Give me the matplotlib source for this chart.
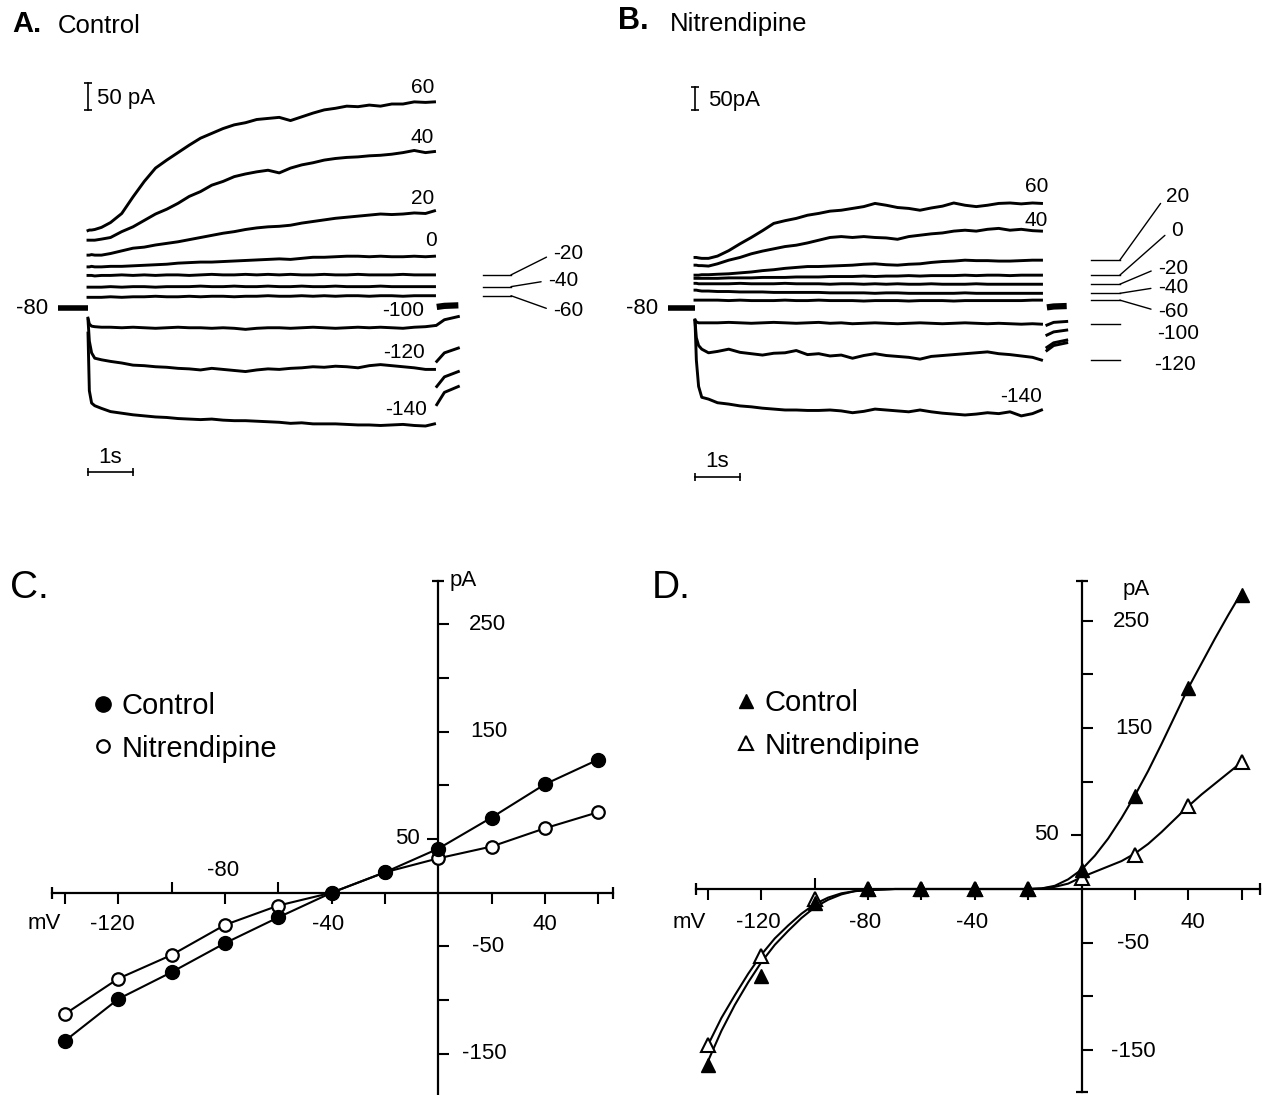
"""
Whole-cell currents in control and nitrendipine.

A, B: current traces for 7.7 s voltage steps from a -80 mV holding
potential (step potential in mV next to each trace).
C, D: current-voltage relations; circles = early current,
triangles = late current.
"""

import matplotlib
matplotlib.use("Agg")
import matplotlib.pyplot as plt
from matplotlib.lines import Line2D

plt.rcParams.update({
    "font.family": ["Liberation Sans", "DejaVu Sans"],
    "font.size": 15,
})

W_PX, H_PX = 1263, 1095

# ---------------------------------------------------------------- traces
# sample times (s) after the start of the step
T_STEP = [0, 0.03, 0.08, 0.15, 0.3, 0.5, 0.75, 1.0, 1.25, 1.5, 1.75, 2.0,
          2.25, 2.5, 2.75, 3.0, 3.25, 3.5, 3.75, 4.0, 4.25, 4.5, 4.75, 5.0,
          5.25, 5.5, 5.75, 6.0, 6.25, 6.5, 6.75, 7.0, 7.25, 7.5, 7.7]
STEP_MV = [60, 40, 20, 0, -20, -40, -60, -100, -120, -140]

# control currents (pA, relative to the holding current at -80 mV)
A_P60 = [145, 146, 146, 147, 151, 160, 177, 208, 237, 262, 277, 291, 305, 318,
         327, 336, 343, 347, 353, 355, 357, 351, 358, 365, 371, 374, 378, 377,
         380, 378, 382, 382, 386, 385, 386]
A_P40 = [127, 127, 127, 127, 129, 132, 143, 152, 164, 176, 185, 196, 209, 218,
         230, 237, 246, 251, 255, 258, 253, 262, 268, 272, 277, 280, 282, 283,
         285, 286, 288, 291, 295, 291, 293]
A_P20 = [99, 99, 100, 99, 99, 102, 107, 112, 114, 118, 121, 124, 128, 132, 136,
         140, 143, 147, 150, 152, 153, 155, 159, 162, 165, 168, 170, 172, 174,
         176, 175, 176, 178, 177, 182]
A_0 = [77, 77, 78, 77, 77, 78, 78, 79, 80, 81, 82, 84, 85, 86, 86, 87, 88, 89,
       90, 91, 92, 91, 93, 95, 95, 96, 97, 97, 96, 97, 96, 96, 97, 96, 97]
A_M20 = [61, 61, 61, 60, 61, 61, 62, 61, 62, 61, 62, 62, 61, 62, 63, 62, 62, 63,
         62, 63, 62, 63, 62, 62, 63, 62, 62, 63, 62, 62, 62, 63, 62, 62, 62]
A_M40 = [39, 39, 39, 39, 39, 40, 39, 40, 40, 39, 40, 40, 40, 41, 40, 40, 41, 40,
         40, 41, 40, 40, 41, 40, 40, 41, 40, 40, 40, 41, 40, 40, 40, 40, 40]
A_M60 = [20, 20, 20, 20, 20, 21, 20, 21, 21, 22, 21, 21, 22, 21, 22, 22, 21, 22,
         22, 23, 22, 22, 23, 22, 23, 22, 23, 23, 22, 23, 23, 22, 23, 23, 23]
A_M100 = [-19, -30, -34, -35, -36, -36, -37, -36, -37, -38, -37, -36, -37, -37,
          -38, -37, -38, -40, -38, -37, -37, -38, -37, -36, -37, -38, -37, -36,
          -37, -36, -37, -38, -36, -35, -33]
A_M120 = [-22, -62, -84, -94, -97, -100, -103, -107, -108, -110, -111, -113,
          -114, -116, -113, -115, -117, -119, -116, -114, -115, -113, -112, -110,
          -111, -109, -110, -112, -108, -106, -108, -110, -112, -115, -115]
A_M140 = [-47, -155, -178, -183, -188, -194, -197, -200, -202, -204, -205, -207,
          -208, -209, -208, -210, -211, -211, -212, -213, -214, -216, -215, -217,
          -217, -217, -218, -219, -219, -220, -219, -218, -220, -221, -217]

# nitrendipine currents (pA)
B_P60 = [112, 112, 111, 110, 110, 115, 127, 142, 156, 171, 187, 193, 198, 205,
         209, 214, 216, 220, 224, 231, 227, 222, 220, 216, 221, 225, 232, 227,
         224, 227, 231, 232, 230, 232, 231]
B_P40 = [95, 95, 94, 94, 93, 98, 106, 112, 120, 126, 131, 136, 139, 144, 150,
         156, 158, 156, 158, 156, 155, 152, 158, 161, 164, 166, 170, 172, 170,
         174, 176, 172, 174, 171, 170]
B_P20 = [73, 73, 73, 74, 74, 75, 76, 78, 80, 83, 85, 88, 90, 92, 92, 93, 94, 95,
         97, 98, 96, 95, 97, 98, 101, 103, 104, 106, 105, 105, 104, 104, 105, 106,
         106]
B_0 = [66, 66, 66, 66, 66, 66, 67, 67, 67, 68, 68, 68, 69, 69, 69, 70, 70, 70,
       71, 70, 71, 71, 72, 71, 72, 72, 72, 73, 72, 73, 73, 72, 73, 73, 73]
B_M20 = [55, 55, 54, 54, 54, 54, 54, 55, 54, 54, 54, 55, 54, 54, 54, 53, 54, 54,
         53, 54, 53, 54, 53, 53, 54, 53, 53, 53, 54, 53, 53, 53, 53, 53, 53]
B_M40 = [40, 40, 39, 38, 38, 37, 37, 36, 36, 36, 35, 35, 35, 35, 35, 34, 34, 34,
         34, 33, 34, 34, 33, 33, 33, 33, 33, 34, 33, 33, 33, 33, 33, 33, 33]
B_M60 = [18, 18, 18, 18, 18, 18, 17, 18, 17, 17, 17, 18, 17, 17, 18, 17, 17, 17,
         16, 17, 17, 17, 16, 17, 17, 17, 16, 17, 17, 17, 17, 17, 17, 18, 18]
B_M100 = [-26, -30, -32, -32, -32, -32, -31, -32, -33, -32, -31, -32, -33, -32,
          -31, -33, -32, -34, -33, -32, -33, -34, -33, -32, -33, -34, -33, -32,
          -33, -34, -33, -34, -35, -34, -35]
B_M120 = [-29, -65, -82, -90, -98, -95, -90, -97, -100, -103, -99, -98, -93,
          -102, -100, -105, -103, -110, -104, -100, -104, -106, -108, -112, -106,
          -104, -102, -100, -98, -96, -100, -102, -105, -108, -114]
B_M140 = [-26, -114, -172, -196, -200, -208, -211, -215, -217, -220, -222, -224,
          -224, -225, -225, -224, -226, -230, -227, -222, -224, -226, -228, -224,
          -228, -231, -233, -235, -233, -230, -232, -228, -237, -232, -224]

# holding current segment before the step, and tail currents after it
HOLD_T_A = [-0.67, 0]
HOLD_T_B = [-0.59, 0]
HOLD_I = [0, 0]
TAIL_T_A = [7.75, 7.92, 8.23]
TAILS_A = [[-32, -22, -16], [-100, -84, -75], [-147, -129, -119],
           [-181, -158, -147]]
TAIL_T_B = [7.82, 7.97, 8.26]
TAILS_B = [[-37, -31, -29], [-59, -52, -48], [-86, -76, -70], [-93, -82, -76]]

# ---------------------------------------------------------------- I-V data
IV_MV = [-140, -120, -100, -80, -60, -40, -20, 0, 20, 40, 60]
C_CONTROL = [-138, -99, -74, -47, -23, 0, 19, 41, 70, 101, 124]
C_NITREN = [-113, -80, -58, -30, -12, 0, 19, 32, 43, 60, 75]
D_CONTROL = [-164, -81, -13, 0, 0, 0, 0, 18, 87, 187, 274]
D_NITREN = [-145, -62, -9, 0, 0, 0, 0, 10, 32, 77, 118]

# smooth curves through the late-current points
FIT_MV = [-140, -135, -130, -125, -120, -115, -110, -105, -100, -95, -90, -85,
          -80, -70, -60, -50, -40, -30, -20, -15, -10, -5, 0, 5, 10, 15, 20,
          25, 30, 35, 40, 45, 50, 55, 60]
FIT_CONTROL = [-160, -132, -108, -87, -68, -52, -39, -27, -17, -10, -5, -2, -1,
               0, 0, 0, 0, 0, 0, 0.5, 3, 9, 18, 31, 47, 66, 87, 110, 135, 161,
               187, 210, 233, 255, 276]
FIT_NITREN = [-145, -120, -99, -79, -61, -46, -34, -23, -14, -8, -4, -2, -1,
              0, 0, 0, 0, 0, 0, 0.5, 2, 5, 11, 16, 21, 26, 33, 42, 53, 65, 77,
              88, 98, 108, 118]


def add_px_axes(fig, left, top, right, bottom):
    """Axes placed by pixel box (top-left origin)."""
    return fig.add_axes([left / W_PX, 1 - bottom / H_PX,
                         (right - left) / W_PX, (bottom - top) / H_PX])


def trace_axes(fig, box, origin, px_per_s, px_per_pa):
    left, top, right, bottom = box
    x0, y0 = origin
    ax = add_px_axes(fig, *box)
    ax.set_xlim((left - x0) / px_per_s, (right - x0) / px_per_s)
    ax.set_ylim((y0 - bottom) / px_per_pa, (y0 - top) / px_per_pa)
    ax.axis("off")
    return ax


def label(ax, xy, text, dx, dy, size=15, ha="center", **kw):
    ax.annotate(text, xy=xy, xytext=(dx, dy), textcoords="offset pixels",
                ha=ha, va="center", fontsize=size, annotation_clip=False, **kw)


def draw_traces(ax, traces, hold_t, tail_t, tails, lw=2.1):
    for cur in traces:
        ax.plot(T_STEP, cur, color="black", lw=lw, clip_on=False,
                solid_joinstyle="round")
    ax.plot(hold_t, HOLD_I, color="black", lw=4, solid_capstyle="butt")
    ax.plot(tail_t, [2, 4, 5], color="black", lw=4.5, solid_capstyle="butt")
    for cur in tails:
        ax.plot(tail_t, cur, color="black", lw=lw)
    label(ax, (hold_t[0], 0), "-80", -10, 0, size=16, ha="right")


def scale_bars(ax, amp_base, time_level, amp_dx, time_dy, amp_text):
    # 50 pA vertical bar and 1 s horizontal bar
    ax.plot([0, 0], [amp_base, amp_base + 50], color="black", lw=1.2,
            marker="_", ms=6, mew=1.2, clip_on=False)
    label(ax, (0, amp_base + 25), amp_text, amp_dx, -2, size=16, ha="left")
    ax.plot([0, 1], [time_level, time_level], color="black", lw=1.2,
            marker="|", ms=6, mew=1.2, clip_on=False)
    label(ax, (0.5, time_level), "1s", 0, time_dy, size=16)


def side_label(ax, t_from, t_to, level, text, dx, dy, leader=True):
    ax.plot([t_from, t_to], [level, level], color="black", lw=1.0,
            clip_on=False)
    if leader:
        label(ax, (t_to, level), text, dx, dy, ha="left",
              arrowprops=dict(arrowstyle="-", lw=1.0, color="black",
                              shrinkA=3, shrinkB=0, relpos=(0, 0.5)))
    else:
        label(ax, (t_to, level), text, dx, dy, ha="left")


def iv_axes(fig, box, zero, px_per_mv, px_per_pa, x_bounds, y_bounds,
            x_major, x_minor, y_caps):
    left, top, right, bottom = box
    x0, y0 = zero
    ax = add_px_axes(fig, *box)
    ax.set_xlim((left - x0) / px_per_mv, (right - x0) / px_per_mv)
    ax.set_ylim((y0 - bottom) / px_per_pa, (y0 - top) / px_per_pa)
    ax.patch.set_visible(False)
    for side in ("top", "right"):
        ax.spines[side].set_visible(False)
    ax.spines["left"].set_position(("data", 0))
    ax.spines["bottom"].set_position(("data", 0))
    ax.spines["bottom"].set_bounds(*x_bounds)
    ax.spines["left"].set_bounds(*y_bounds)
    for sp in ("left", "bottom"):
        ax.spines[sp].set_linewidth(1.6)

    ax.set_xticks(x_major)
    ax.set_xticks(x_minor, minor=True)
    ax.set_yticks([-150, -100, -50, 100, 150, 200, 250])
    ax.set_yticks([50], minor=True)
    ax.tick_params(axis="x", which="major", direction="out", length=8,
                   width=1.5, labelbottom=False)
    ax.tick_params(axis="x", which="minor", direction="in", length=8,
                   width=1.5)
    ax.tick_params(axis="y", which="major", direction="in", length=8,
                   width=1.5, labelleft=False)
    ax.tick_params(axis="y", which="minor", direction="out", length=8,
                   width=1.5)

    # end caps on the axis lines
    ax.plot(x_bounds, [0, 0], ls="none", marker="|", ms=8, mew=1.6,
            color="black", clip_on=False)
    ax.plot([0] * len(y_caps), y_caps, ls="none", marker="_", ms=8, mew=1.6,
            color="black", clip_on=False)
    return ax


def iv_legend(ax, handles, anchor_px):
    ax.legend(handles=handles, loc="upper left", frameon=False,
              bbox_to_anchor=(anchor_px[0] / W_PX, 1 - anchor_px[1] / H_PX),
              bbox_transform=ax.figure.transFigure, fontsize=21,
              handlelength=0.8, handletextpad=0.25, labelspacing=0.5,
              borderpad=0, borderaxespad=0)


fig = plt.figure(figsize=(W_PX / 100, H_PX / 100), dpi=100)
fig.patch.set_facecolor("white")

# ------------------------------------------------------------ A. control
ax_a = trace_axes(fig, (0, 40, 600, 500), (88, 308), 45, 26.7 / 50)
a_traces = [A_P60, A_P40, A_P20, A_0, A_M20, A_M40, A_M60,
            A_M100, A_M120, A_M140]
draw_traces(ax_a, a_traces, HOLD_T_A, TAIL_T_A, TAILS_A)
scale_bars(ax_a, 371, -307, 9, 14, "50 pA")
a_inline = {60: (-12, 14), 40: (-12, 14), 20: (-12, 12), 0: (-3, 16),
            -100: (-31, 15), -120: (-31, 17), -140: (-28, 14)}
a_side = {-20: (42, 21), -40: (37, 6), -60: (42, -15)}
for mv, cur in zip(STEP_MV, a_traces):
    if mv in a_inline:
        dx, dy = a_inline[mv]
        label(ax_a, (T_STEP[-1], cur[-1]), str(mv), dx, dy)
    elif mv in a_side:
        dx, dy = a_side[mv]
        side_label(ax_a, 8.77, 9.4, cur[-1], str(mv), dx, dy)

# -------------------------------------------------------- B. nitrendipine
ax_b = trace_axes(fig, (600, 40, 1263, 500), (695, 308.3), 45, 22.7 / 50)
b_traces = [B_P60, B_P40, B_P20, B_0, B_M20, B_M40, B_M60,
            B_M100, B_M120, B_M140]
draw_traces(ax_b, b_traces, HOLD_T_B, TAIL_T_B, TAILS_B)
scale_bars(ax_b, 437, -372, 13, 16, "50pA")
b_inline = {60: (-5, 17), 40: (-5, 11), -140: (-20, 13)}
b_side = {20: (46, 64), 0: (51, 45), -20: (38, 16), -40: (38, 6),
          -60: (38, -11), -100: (37, -9), -120: (34, -4)}
for mv, cur in zip(STEP_MV, b_traces):
    if mv in b_inline:
        dx, dy = b_inline[mv]
        label(ax_b, (T_STEP[-1], cur[-1]), str(mv), dx, dy)
    else:
        dx, dy = b_side[mv]
        side_label(ax_b, 8.79, 9.44, cur[-1], str(mv), dx, dy,
                   leader=mv > -100)

# ------------------------------------------------------------ C. I-V early
ax_c = iv_axes(fig, (0, 560, 640, 1095), (438.3, 892.7), 2.667, 1.074,
               (-145, 65.5), (-200, 290),
               [-140, -120, -80, -40, -20, 20, 40, 60], [-100, -60], [290])
ax_c.plot(IV_MV, C_NITREN, color="black", lw=1.5, zorder=2)
ax_c.plot(IV_MV, C_CONTROL, color="black", lw=1.5, zorder=2)
ax_c.plot(IV_MV, C_NITREN, ls="none", marker="o", ms=9, mfc="white",
          mec="black", mew=1.6, zorder=3)
ax_c.plot(IV_MV, C_CONTROL, ls="none", marker="o", ms=10, mfc="black",
          mec="black", zorder=4)
for v, dx in [(-120, -6), (-40, -4), (40, 0)]:
    label(ax_c, (v, 0), str(v), dx, -32, size=16)
label(ax_c, (-80, 0), "-80", -2, 22, size=16)
label(ax_c, (-140, 0), "mV", -21, -31, size=16)
for i, dx in [(250, 49), (150, 51), (-50, 50), (-150, 46)]:
    label(ax_c, (0, i), str(i), dx, 0, size=16)
label(ax_c, (0, 50), "50", -31, 1, size=16)
label(ax_c, (0, 290), "pA", 25, 1, size=16)
iv_legend(ax_c, [
    Line2D([], [], ls="none", marker="o", ms=11, mfc="black", mec="black",
           label="Control"),
    Line2D([], [], ls="none", marker="o", ms=9, mfc="white", mec="black",
           mew=1.6, label="Nitrendipine"),
], (91, 692))

# ------------------------------------------------------------- D. I-V late
ax_d = iv_axes(fig, (640, 560, 1263, 1095), (1081.5, 889), 2.667, 1.074,
               (-144.5, 67), (-189, 287),
               [-140, -120, -80, -60, -40, -20, 20, 40, 60], [-100],
               [287, -189])
ax_d.plot(FIT_MV, FIT_NITREN, color="black", lw=1.5, zorder=2)
ax_d.plot(FIT_MV, FIT_CONTROL, color="black", lw=1.5, zorder=2)
ax_d.plot(IV_MV, D_NITREN, ls="none", marker="^", ms=9.5, mfc="white",
          mec="black", mew=1.5, zorder=3)
ax_d.plot(IV_MV, D_CONTROL, ls="none", marker="^", ms=10, mfc="black",
          mec="black", zorder=4)
for v in (-120, -80, -40):
    label(ax_d, (v, 0), str(v), -3, -34, size=16)
label(ax_d, (40, 0), "40", 5, -33, size=16)
label(ax_d, (-140, 0), "mV", -19, -34, size=16)
for i, dx in [(250, 50), (150, 52), (-50, 52), (-150, 52)]:
    label(ax_d, (0, i), str(i), dx, -1, size=16)
label(ax_d, (0, 50), "50", -35, 1, size=16)
label(ax_d, (0, 287), "pA", 55, -9, size=16)
iv_legend(ax_d, [
    Line2D([], [], ls="none", marker="^", ms=10, mfc="black", mec="black",
           label="Control"),
    Line2D([], [], ls="none", marker="^", ms=9.5, mfc="white", mec="black",
           mew=1.5, label="Nitrendipine"),
], (734, 689))

# ------------------------------------------------------------ panel titles
fig.text(12 / W_PX, 1 - 24 / H_PX, "A.", fontsize=21, fontweight="bold",
         va="center")
fig.text(58 / W_PX, 1 - 26 / H_PX, "Control", fontsize=18.5, va="center")
fig.text(618 / W_PX, 1 - 21 / H_PX, "B.", fontsize=22, fontweight="bold",
         va="center")
fig.text(670 / W_PX, 1 - 24 / H_PX, "Nitrendipine", fontsize=18.5,
         va="center")
fig.text(10 / W_PX, 1 - 588 / H_PX, "C.", fontsize=28, va="center")
fig.text(652 / W_PX, 1 - 588 / H_PX, "D.", fontsize=28, va="center")

fig.savefig("out.png", dpi=100, facecolor="white")
